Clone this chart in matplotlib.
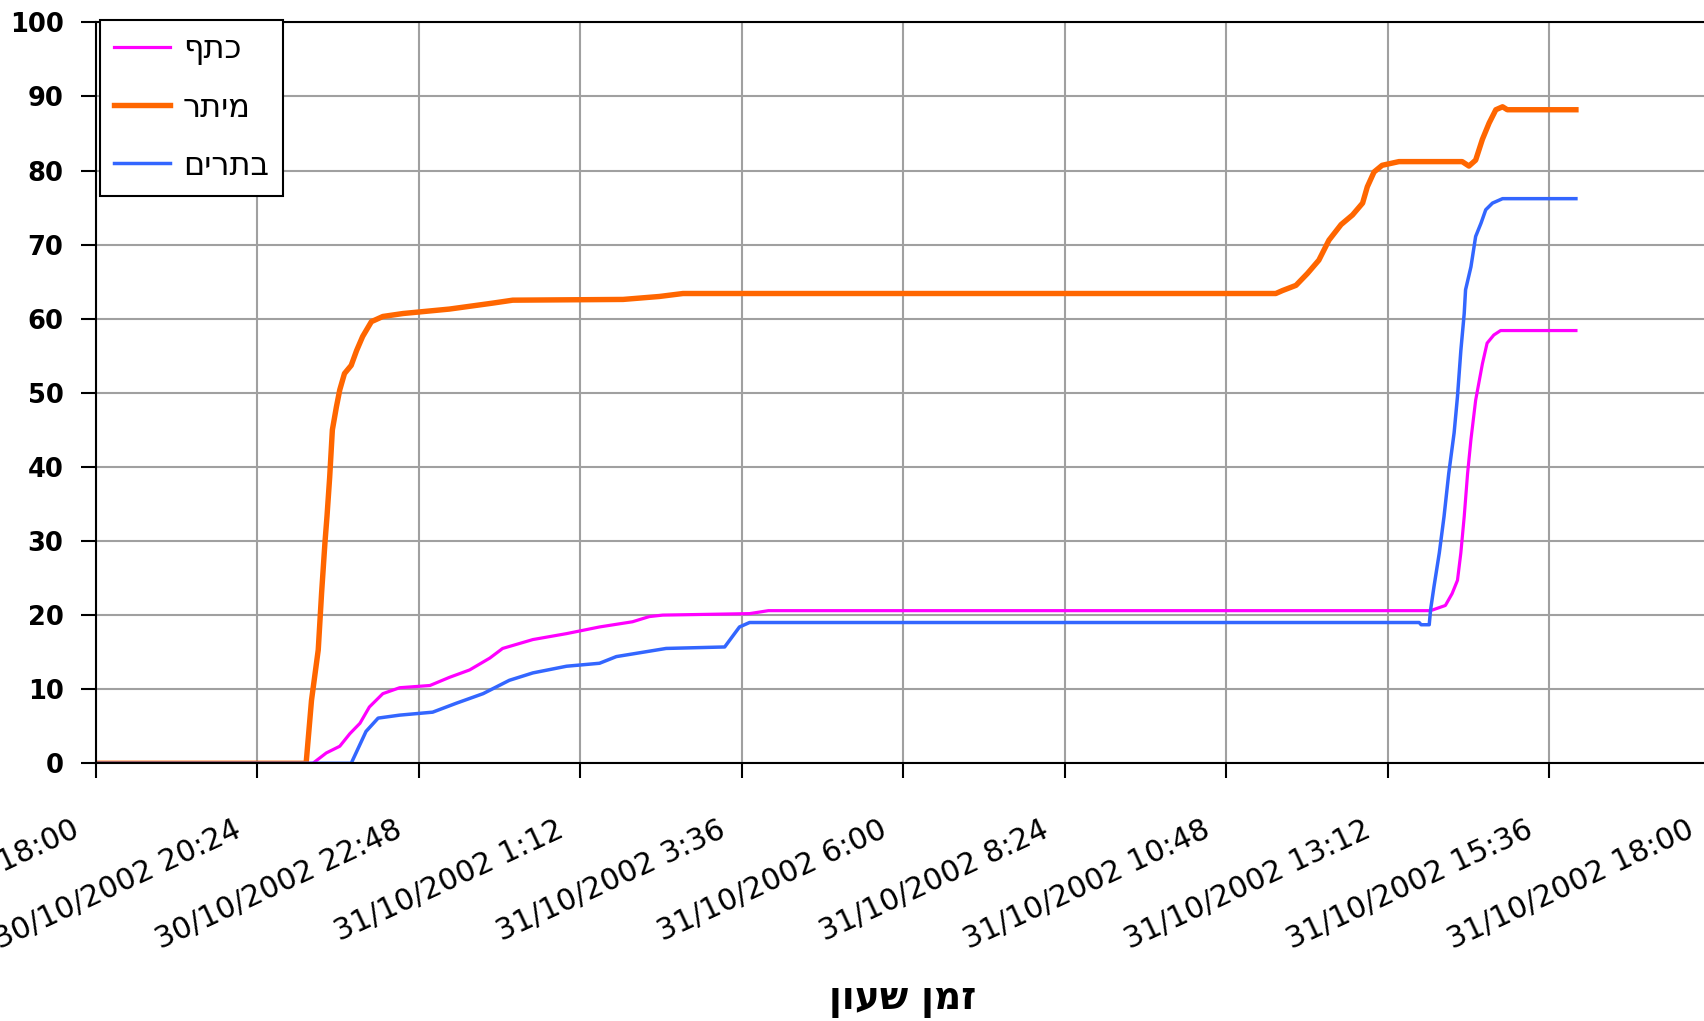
import matplotlib
matplotlib.use("Agg")
import matplotlib.pyplot as plt
from matplotlib.transforms import ScaledTranslation

# ---- data (x = hours since 30/10/2002 18:00) ----
tick_hours = [0, 2.4, 4.8, 7.2, 9.6, 12.0, 14.4, 16.8, 19.2, 21.6, 24.0]
tick_labels = ["30/10/2002 18:00", "30/10/2002 20:24", "30/10/2002 22:48",
               "31/10/2002 1:12", "31/10/2002 3:36", "31/10/2002 6:00",
               "31/10/2002 8:24", "31/10/2002 10:48", "31/10/2002 13:12",
               "31/10/2002 15:36", "31/10/2002 18:00"]

x_label = "זמן שעון"
name_katef = "כתף"
name_meitar = "מיתר"
name_batarim = "בתרים"

katef_h = [0, 3.23, 3.43, 3.63, 3.78, 3.93, 4.07, 4.27, 4.52, 4.97, 5.26, 5.56, 5.86,
           6.05, 6.50, 7.00, 7.49, 7.98, 8.23, 8.43, 9.72, 10.0, 19.84, 20.06, 20.16,
           20.24, 20.29, 20.34, 20.39, 20.44, 20.51, 20.61, 20.68, 20.78, 20.88, 22.0]
katef_v = [0, 0, 1.4, 2.3, 4.0, 5.4, 7.6, 9.4, 10.2, 10.5, 11.6, 12.6, 14.2,
           15.5, 16.7, 17.5, 18.4, 19.1, 19.8, 20.0, 20.2, 20.6, 20.6, 21.3, 22.9,
           24.7, 28.4, 33.3, 39.1, 43.7, 49.0, 53.9, 56.7, 57.8, 58.4, 58.4]

meitar_h = [0, 3.13, 3.21, 3.31, 3.36, 3.41, 3.44, 3.48, 3.52, 3.58, 3.63, 3.70, 3.80,
            3.88, 3.97, 4.10, 4.27, 4.57, 5.26, 5.90, 6.20, 7.84, 8.38, 8.73, 17.54,
            17.64, 17.84, 18.01, 18.18, 18.33, 18.51, 18.68, 18.83, 18.90, 19.00, 19.12,
            19.37, 20.31, 20.41, 20.51, 20.61, 20.71, 20.81, 20.91, 20.98, 22.0]
meitar_v = [0, 0, 8.5, 15.3, 23.0, 29.8, 33.3, 38.6, 45.0, 48.1, 50.4, 52.6, 53.7,
            55.7, 57.6, 59.6, 60.3, 60.7, 61.3, 62.1, 62.5, 62.6, 63.0, 63.4, 63.4,
            63.8, 64.5, 66.1, 67.9, 70.6, 72.7, 74.0, 75.6, 77.8, 79.8, 80.7,
            81.2, 81.2, 80.6, 81.4, 84.2, 86.4, 88.2, 88.6, 88.2, 88.2]

batarim_h = [0, 3.80, 4.02, 4.20, 4.52, 5.01, 5.36, 5.76, 6.15, 6.50, 7.00, 7.49, 7.74,
             8.48, 9.35, 9.57, 9.72, 19.67, 19.70, 19.82, 19.84, 19.89, 19.97, 20.04,
             20.11, 20.19, 20.24, 20.29, 20.34, 20.36, 20.44, 20.51, 20.59, 20.66,
             20.76, 20.91, 22.0]
batarim_v = [0, 0, 4.3, 6.1, 6.5, 6.9, 8.1, 9.4, 11.2, 12.2, 13.1, 13.5, 14.4,
             15.5, 15.7, 18.4, 19.0, 19.0, 18.7, 18.7, 20.7, 23.8, 28.4, 33.3,
             39.1, 44.6, 49.5, 55.7, 60.7, 63.9, 67.0, 71.1, 72.9, 74.7,
             75.6, 76.2, 76.2]

y_ticks = list(range(0, 101, 10))

# ---- figure ----
W, H = 1704, 1021
fig = plt.figure(figsize=(W / 100, H / 100), dpi=100)
x0, x1, ytop, ybot = 95.5, 1710.5, 22.3, 763.3
ax = fig.add_axes([x0 / W, 1 - ybot / H, (x1 - x0) / W, (ybot - ytop) / H])

def rtl(s):
    return s[::-1]

ax.plot(katef_h, katef_v, color="#FF00FF", lw=2.3, label=rtl(name_katef))
ax.plot(meitar_h, meitar_v, color="#FF6600", lw=3.9, label=rtl(name_meitar))
ax.plot(batarim_h, batarim_v, color="#3366FF", lw=2.5, label=rtl(name_batarim))

ax.set_xlim(0, 24)
ax.set_ylim(0, 100)
ax.set_xticks(tick_hours)
ax.set_xticklabels(tick_labels)
ax.set_yticks(y_ticks)
ax.grid(True, color="#a0a0a0", lw=1.5)
ax.set_axisbelow(True)
for s in ax.spines.values():
    s.set_color("black")
    s.set_linewidth(1.5)

ax.tick_params(axis="y", length=11, width=1.5, pad=12, labelsize=18.5)
ax.tick_params(axis="x", length=11, width=1.5, pad=36, labelsize=21.5)
for lab in ax.get_yticklabels():
    lab.set_fontweight("bold")
off = ScaledTranslation(-0.18, 0, fig.dpi_scale_trans)
for lab in ax.get_xticklabels():
    lab.set_rotation(25)
    lab.set_ha("right")
    lab.set_va("center")
    lab.set_rotation_mode("anchor")
    lab.set_transform(lab.get_transform() + off)

ax.set_xlabel(rtl(x_label), fontsize=27, fontweight="bold")
ax.xaxis.set_label_coords(0.5, (ybot - 1000) / (ybot - ytop))
ax.xaxis.label.set_va("center")

leg = ax.legend(loc="upper left", bbox_to_anchor=(100 / W, 1 - 20 / H),
                bbox_transform=fig.transFigure, fontsize=23, frameon=True,
                fancybox=False, edgecolor="black", framealpha=1,
                handlelength=1.75, handletextpad=0.4, labelspacing=0.85,
                borderpad=0.45, borderaxespad=0)
leg.get_frame().set_linewidth(1.5)

fig.savefig("out.png", dpi=100)
